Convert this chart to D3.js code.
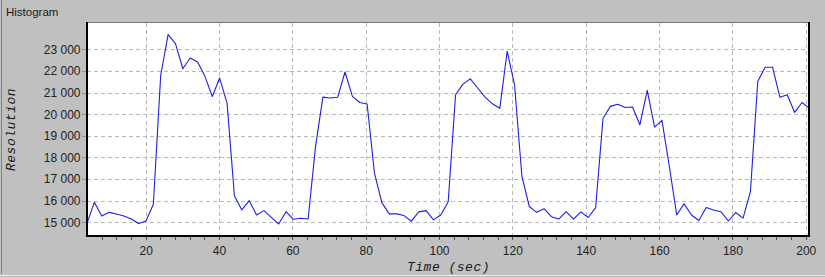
<!DOCTYPE html>
<html>
<head>
<meta charset="utf-8">
<script src="https://cdn.jsdelivr.net/npm/d3@7"></script>
<style>
  html, body { margin: 0; padding: 0; background: #c0c0c0; }
  svg { display: block; }
</style>
</head>
<body>
<script>
// ---- Data ----
const title = "Histogram";
const xLabel = "Time (sec)";
const yLabel = "Resolution";
const T0 = 4;          // first sample time (sec)
const DT = 2.0102;     // sampling interval (sec)
const resolution = [
  14950, 15930, 15290, 15460, 15380, 15290, 15150, 14940, 15060, 15830,
  21800, 23680, 23260, 22100, 22600, 22410, 21750, 20820, 21670, 20510,
  16230, 15570, 16000, 15340, 15540, 15230, 14920, 15490, 15140, 15190,
  15150, 18500, 20790, 20750, 20780, 21950, 20820, 20540, 20470, 17270,
  15910, 15390, 15390, 15310, 15050, 15480, 15540, 15110, 15340, 15950,
  20900, 21390, 21630, 21210, 20790, 20480, 20270, 22910, 21360, 17120,
  15730, 15460, 15630, 15260, 15150, 15490, 15150, 15480, 15220, 15680,
  19800, 20360, 20460, 20310, 20330, 19510, 21100, 19400, 19710, 17580,
  15340, 15850, 15340, 15080, 15680, 15570, 15490, 15060, 15450, 15190,
  16420, 21520, 22170, 22170, 20780, 20900, 20080, 20540, 20280
];
const xTicks = [20, 40, 60, 80, 100, 120, 140, 160, 180, 200];
const xMinorTicks = [8, 12, 16, 24, 28, 32, 36, 44, 48, 52, 56, 64, 68, 72, 76, 84, 88, 92, 96,
  104, 108, 112, 116, 124, 128, 132, 136, 144, 148, 152, 156, 164, 168, 172, 176, 184, 188, 192, 196];
const yTicks = [15000, 16000, 17000, 18000, 19000, 20000, 21000, 22000, 23000];
const yTickLabels = ["15 000", "16 000", "17 000", "18 000", "19 000", "20 000", "21 000", "22 000", "23 000"];
const xDomain = [4, 201];
const yDomain = [14366, 24216];

const points = resolution.map((v, i) => ({ t: T0 + i * DT, v }));

// ---- Layout ----
const W = 825, H = 277;
const plot = { left: 87, right: 810, top: 23, bottom: 236 };

const svg = d3.select("body").append("svg").attr("width", W).attr("height", H);

svg.append("rect").attr("width", W).attr("height", H).attr("fill", "#c0c0c0");
// window frame lines
svg.append("line").attr("x1", 1.5).attr("x2", 1.5).attr("y1", 0).attr("y2", 274)
  .attr("stroke", "#808080");
svg.append("line").attr("x1", 0).attr("x2", W).attr("y1", 275.5).attr("y2", 275.5)
  .attr("stroke", "#ece9d8");

svg.append("text").attr("x", 6).attr("y", 15.5)
  .attr("font-family", "'Liberation Sans', Arial, sans-serif").attr("font-size", 11.5)
  .attr("fill", "#1a1a1a").text(title);

const x = d3.scaleLinear().domain(xDomain).range([plot.left, plot.right - 0.6]);
const y = d3.scaleLinear().domain(yDomain).range([plot.bottom, plot.top]);

// plot background
svg.append("rect").attr("x", plot.left).attr("y", plot.top)
  .attr("width", plot.right - plot.left).attr("height", plot.bottom - plot.top)
  .attr("fill", "#ffffff");

// grid lines
const grid = svg.append("g").attr("stroke", "#b8b8b8").attr("stroke-dasharray", "4,3");
grid.selectAll("line.v").data(xTicks).join("line").attr("class", "v")
  .attr("x1", d => Math.round(x(d)) + 0.5).attr("x2", d => Math.round(x(d)) + 0.5)
  .attr("y1", plot.top).attr("y2", plot.bottom);
grid.selectAll("line.h").data(yTicks).join("line").attr("class", "h")
  .attr("y1", d => Math.round(y(d)) + 0.5).attr("y2", d => Math.round(y(d)) + 0.5)
  .attr("x1", plot.left).attr("x2", plot.right);

// data line
svg.append("clipPath").attr("id", "clip").append("rect")
  .attr("x", plot.left).attr("y", plot.top)
  .attr("width", plot.right - plot.left).attr("height", plot.bottom - plot.top);
const line = d3.line().x(d => x(d.t)).y(d => y(d.v));
svg.append("path").datum(points).attr("clip-path", "url(#clip)")
  .attr("fill", "none").attr("stroke", "#1e1ee6").attr("stroke-width", 1.1)
  .attr("stroke-linejoin", "round").attr("d", line);

// frame
svg.append("line").attr("x1", plot.left - 1).attr("x2", plot.right).attr("y1", plot.top - 0.5).attr("y2", plot.top - 0.5)
  .attr("stroke", "#7a7a7a");
svg.append("line").attr("x1", plot.left - 0).attr("x2", plot.left - 0).attr("y1", plot.top - 1).attr("y2", plot.bottom + 1)
  .attr("stroke", "#000").attr("stroke-width", 2);
svg.append("line").attr("x1", plot.left - 1).attr("x2", plot.right).attr("y1", plot.bottom).attr("y2", plot.bottom)
  .attr("stroke", "#000").attr("stroke-width", 2);
svg.append("line").attr("x1", plot.right - 1).attr("x2", plot.right - 1).attr("y1", plot.top - 1).attr("y2", plot.bottom + 1)
  .attr("stroke", "#000").attr("stroke-width", 2);

const font = "'Liberation Sans', Arial, sans-serif";

// x axis
const xAxis = d3.axisBottom(x).tickValues(xTicks).tickSize(0).tickPadding(0).tickFormat(d => String(d));
const gx = svg.append("g").attr("transform", `translate(0,${plot.bottom + 1})`).call(xAxis);
gx.select(".domain").remove();
gx.selectAll("text").attr("font-family", font).attr("font-size", 12).attr("fill", "#222")
  .attr("dy", null).attr("y", 18);
// minor ticks on x
svg.append("g").selectAll("line").data(xTicks.concat(xMinorTicks)).join("line")
  .attr("x1", d => Math.round(x(d)) + 0.5).attr("x2", d => Math.round(x(d)) + 0.5)
  .attr("y1", plot.bottom + 1).attr("y2", plot.bottom + 4).attr("stroke", "#505050");

// y axis
const yAxis = d3.axisLeft(y).tickValues(yTicks).tickSize(0).tickPadding(0)
  .tickFormat((d, i) => yTickLabels[i]);
const gy = svg.append("g").attr("transform", `translate(${plot.left - 6.5},0)`).call(yAxis);
gy.select(".domain").remove();
gy.selectAll("text").attr("font-family", font).attr("font-size", 12).attr("fill", "#222");
svg.append("g").selectAll("line").data(yTicks).join("line")
  .attr("y1", d => Math.round(y(d)) + 0.5).attr("y2", d => Math.round(y(d)) + 0.5)
  .attr("x1", plot.left - 5).attr("x2", plot.left - 1).attr("stroke", "#909090");

// axis titles
const mono = "'Liberation Mono', 'Courier New', monospace";
svg.append("text").attr("x", (plot.left + plot.right) / 2).attr("y", 270.5)
  .attr("text-anchor", "middle").attr("font-family", mono).attr("font-style", "italic")
  .attr("font-size", 13).attr("letter-spacing", 0.5).attr("fill", "#1a1a1a").text(xLabel);
svg.append("text").attr("transform", `translate(15,${(plot.top + plot.bottom) / 2}) rotate(-90)`)
  .attr("text-anchor", "middle").attr("font-family", mono).attr("font-style", "italic")
  .attr("font-size", 13).attr("letter-spacing", 0.5).attr("fill", "#1a1a1a").text(yLabel);
</script>
</body>
</html>
